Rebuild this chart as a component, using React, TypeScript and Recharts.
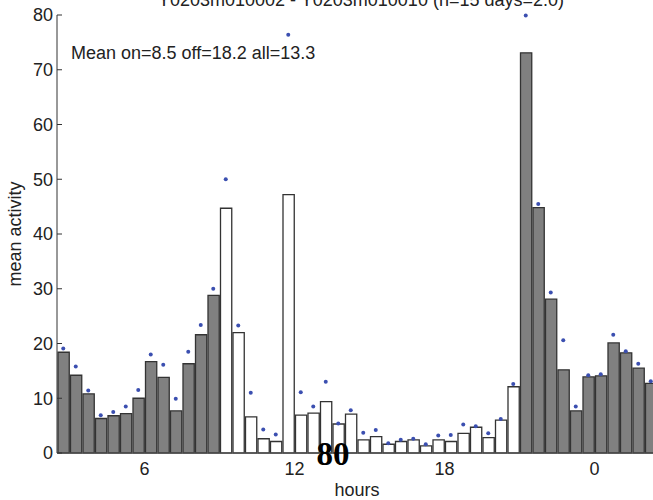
import React from "react";
import { ComposedChart, Bar, Line, XAxis, YAxis, Cell } from "recharts";

// half-hour bin centres (hours; >24 = next day)
const hourBins = [
  2.75, 3.25, 3.75, 4.25, 4.75, 5.25, 5.75, 6.25, 6.75, 7.25, 7.75, 8.25,
  8.75, 9.25, 9.75, 10.25, 10.75, 11.25, 11.75, 12.25, 12.75, 13.25, 13.75, 14.25,
  14.75, 15.25, 15.75, 16.25, 16.75, 17.25, 17.75, 18.25, 18.75, 19.25, 19.75, 20.25,
  20.75, 21.25, 21.75, 22.25, 22.75, 23.25, 23.75, 24.25, 24.75, 25.25, 25.75, 26.25,
];

// bar heights (mean activity)
const meanActivity = [
  18.4, 14.2, 10.8, 6.3, 6.8, 7.2, 10.0, 16.7, 13.8, 7.7, 16.3, 21.6,
  28.8, 44.7, 22.0, 6.6, 2.6, 2.1, 47.2, 6.9, 7.3, 9.4, 5.3, 7.1,
  2.4, 3.0, 1.6, 2.1, 2.4, 1.3, 2.4, 2.1, 3.6, 4.7, 2.8, 6.0,
  12.1, 73.1, 44.8, 28.1, 15.2, 7.7, 13.9, 14.1, 20.1, 18.3, 15.5, 12.7,
];

// blue dots
const dotValues = [
  19.1, 15.8, 11.4, 6.9, 7.5, 8.5, 11.5, 18.0, 16.1, 9.9, 18.5, 23.4,
  30.0, 50.0, 23.3, 11.0, 4.3, 3.4, 76.4, 11.1, 8.5, 13.0, 5.4, 7.8,
  3.7, 4.2, 1.8, 2.4, 2.6, 1.6, 3.2, 3.3, 5.2, 4.9, 3.6, 6.2,
  12.6, 79.9, 45.5, 29.3, 20.6, 8.5, 14.2, 14.4, 21.6, 18.6, 16.3, 13.1,
];

// 1 = lights on (white bar), 0 = lights off (grey bar)
const lightOn = [
  0, 0, 0, 0, 0, 0, 0, 0, 0, 0, 0, 0,
  0, 1, 1, 1, 1, 1, 1, 1, 1, 1, 1, 1,
  1, 1, 1, 1, 1, 1, 1, 1, 1, 1, 1, 1,
  1, 0, 0, 0, 0, 0, 0, 0, 0, 0, 0, 0,
];

const xTicks = [6, 12, 18, 24];
const yTicks = [0, 10, 20, 30, 40, 50, 60, 70, 80];

const titleText = "Y0203m010002 - Y0203m010010 (n=15 days=2.0)";
const meanText = "Mean on=8.5 off=18.2 all=13.3";

const data = hourBins.map((h, i) => ({
  hour: h,
  value: meanActivity[i],
  dot: dotValues[i],
  on: lightOn[i],
}));

const FONT = "'Liberation Sans', Arial, sans-serif";

export default function App() {
  return (
    <div
      style={{
        position: "absolute",
        left: 0,
        top: 0,
        width: 653,
        height: 500,
        overflow: "hidden",
        background: "#fff",
      }}
    >
      <ComposedChart
        width={657}
        height={500}
        data={data}
        margin={{ top: 15, right: 0, bottom: 17, left: 0 }}
      >
        <XAxis
          dataKey="hour"
          type="number"
          domain={[2.5, 26.5]}
          ticks={xTicks}
          tickFormatter={(v: number) => String(v % 24)}
          allowDataOverflow
          height={30}
          tickLine={false}
          tickSize={0}
          tickMargin={9}
          axisLine={{ stroke: "#555", strokeWidth: 1 }}
          tick={{ fill: "#222", fontSize: 18, fontFamily: FONT }}
        />
        <YAxis
          type="number"
          domain={[0, 80]}
          ticks={yTicks}
          width={57}
          tickSize={-5}
          tickMargin={9}
          axisLine={{ stroke: "#333", strokeWidth: 1 }}
          tickLine={{ stroke: "#333", strokeWidth: 1 }}
          tick={{ fill: "#222", fontSize: 18, fontFamily: FONT }}
        />
        <Bar dataKey="value" barSize={12.5} isAnimationActive={false}>
          {data.map((d, i) => (
            <Cell
              key={i}
              fill={d.on ? "#ffffff" : "#808080"}
              stroke="#333"
              strokeWidth={1.3}
            />
          ))}
        </Bar>
        <Line
          dataKey="dot"
          stroke="none"
          strokeWidth={0}
          isAnimationActive={false}
          activeDot={false}
          dot={{ r: 2, fill: "#3b4fb0", stroke: "none", strokeWidth: 0 }}
        />
      </ComposedChart>
      <svg
        width={653}
        height={500}
        style={{ position: "absolute", left: 0, top: 0, pointerEvents: "none" }}
      >
        <text x={361} y={6} textAnchor="middle" fontSize={18} fontFamily={FONT} fill="#222">
          {titleText}
        </text>
        <text x={71} y={59} fontSize={18} fontFamily={FONT} fill="#222">
          {meanText}
        </text>
        <text
          x={21}
          y={234}
          transform="rotate(-90 21 234)"
          textAnchor="middle"
          fontSize={18}
          fontFamily={FONT}
          fill="#222"
        >
          mean activity
        </text>
        <text x={357} y={496} textAnchor="middle" fontSize={18} fontFamily={FONT} fill="#222">
          hours
        </text>
        <text
          x={333}
          y={465}
          textAnchor="middle"
          fontSize={33}
          fontWeight="bold"
          fontFamily="'Liberation Serif', 'Times New Roman', serif"
          fill="#000"
        >
          80
        </text>
      </svg>
    </div>
  );
}
